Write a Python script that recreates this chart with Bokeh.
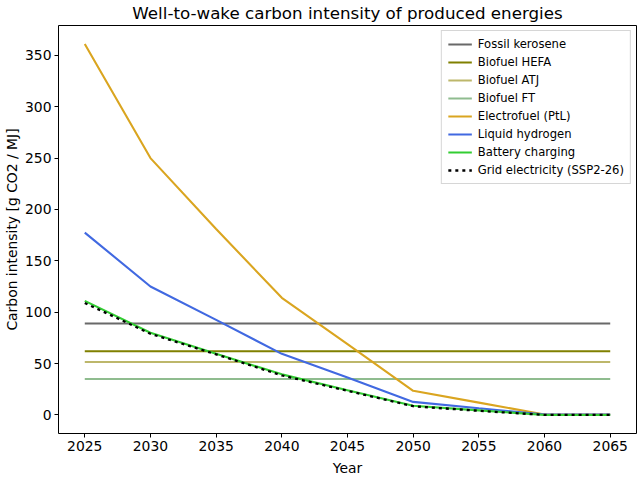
from bokeh.plotting import figure
from bokeh.models import Legend, LegendItem, FixedTicker, Range1d
from bokeh.embed import file_html
from bokeh.resources import INLINE

# Years of the projection
years = [2025, 2030, 2035, 2040, 2045, 2050, 2055, 2060, 2065]

# Well-to-wake carbon intensity, g CO2 / MJ
fossil_kerosene = [89, 89, 89, 89, 89, 89, 89, 89, 89]
biofuel_hefa = [62, 62, 62, 62, 62, 62, 62, 62, 62]
biofuel_atj = [51.5, 51.5, 51.5, 51.5, 51.5, 51.5, 51.5, 51.5, 51.5]
biofuel_ft = [35, 35, 35, 35, 35, 35, 35, 35, 35]
electrofuel_ptl = [361, 250, 181, 114, 69, 23.5, 12, 0.5, 0.5]
liquid_hydrogen = [177.5, 125, 92.5, 59.5, 36.5, 12.7, 6.5, 0.5, 0.5]
battery_charging = [111, 80, 59.5, 39.5, 24, 9, 4.5, 0, 0]
grid_electricity = [109, 79, 59, 38.5, 23.5, 8.5, 4, 0, 0]

series = [
    ("Fossil kerosene", fossil_kerosene, "#696969", None),
    ("Biofuel HEFA", biofuel_hefa, "#808000", None),
    ("Biofuel ATJ", biofuel_atj, "#BDB76B", None),
    ("Biofuel FT", biofuel_ft, "#8FBC8F", None),
    ("Electrofuel (PtL)", electrofuel_ptl, "#DAA520", None),
    ("Liquid hydrogen", liquid_hydrogen, "#4169E1", None),
    ("Battery charging", battery_charging, "#32CD32", None),
    ("Grid electricity (SSP2-26)", grid_electricity, "black", "3 4"),
]

FONT = "DejaVu Sans"

p = figure(
    width=640, height=480,
    output_backend="svg", toolbar_location=None,
    x_range=Range1d(2023, 2067), y_range=Range1d(-18.05, 379.05),
    min_border_left=57, min_border_right=4,
    min_border_top=25, min_border_bottom=47,
    title="Well-to-wake carbon intensity of produced energies",
)

p.title.align = "center"
p.title.vertical_align = "top"
p.title.text_font = FONT
p.title.text_font_size = "16.7px"
p.title.text_font_style = "normal"
p.title.text_color = "black"
p.title.standoff = 2
p.title.offset = 0

p.grid.visible = False
p.outline_line_color = "black"
p.outline_line_width = 1

for ax in (p.xaxis[0], p.yaxis[0]):
    ax.major_label_text_font = FONT
    ax.major_label_text_font_size = "13.9px"
    ax.major_label_text_color = "black"
    ax.axis_label_text_font = FONT
    ax.axis_label_text_font_size = "13.9px"
    ax.axis_label_text_font_style = "normal"
    ax.axis_label_text_color = "black"
    ax.minor_tick_line_color = None
    ax.major_tick_in = 0
    ax.major_tick_out = 4
    ax.major_tick_line_color = "black"
    ax.axis_line_color = None

p.xaxis.major_label_standoff = 3
p.xaxis.axis_label_standoff = 6
p.yaxis.major_label_standoff = 3
p.yaxis.axis_label_standoff = 2

p.xaxis.axis_label = "Year"
p.yaxis.axis_label = "Carbon intensity [g CO2 / MJ]"
p.xaxis.ticker = FixedTicker(ticks=[2025, 2030, 2035, 2040, 2045, 2050, 2055, 2060, 2065])
p.yaxis.ticker = FixedTicker(ticks=[0, 50, 100, 150, 200, 250, 300, 350])

items = []
for name, vals, color, dash in series:
    if dash:
        r = p.line(years, vals, line_color=color, line_width=2.3, line_dash=dash)
    else:
        r = p.line(years, vals, line_color=color, line_width=2.1)
    items.append(LegendItem(label=name, renderers=[r]))

legend = Legend(
    items=items, location="top_right",
    label_text_font=FONT, label_text_font_size="11.6px",
    label_text_color="black",
    label_height=14, glyph_height=14, glyph_width=24,
    spacing=4, padding=6, margin=5, label_standoff=6,
    border_line_color="#cccccc", border_line_alpha=0.8,
    background_fill_alpha=0.8,
)
p.add_layout(legend)

open("out.html", "w").write(file_html(p, INLINE))
